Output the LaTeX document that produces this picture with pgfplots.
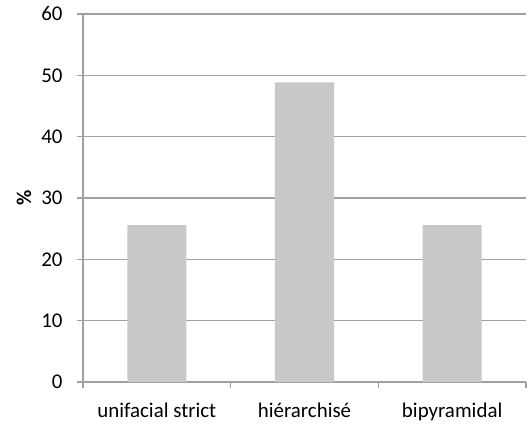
\documentclass[border=0pt]{standalone}
\usepackage{pgfplots}
\pgfplotsset{compat=1.18}
\usepackage{fontspec}
\setmainfont{Carlito}
\definecolor{barfill}{HTML}{C8C8C8}
\definecolor{linegray}{HTML}{A0A0A0}
\begin{document}
\fontsize{10.5}{12.6}\selectfont
\begin{tikzpicture}
\useasboundingbox (-41.5bp,-22bp) rectangle (222.5bp,191bp);
\begin{axis}[
  at={(0,0)}, anchor=south west,
  scale only axis,
  width=221.5bp, height=184bp,
  xmin=-0.5, xmax=2.5,
  ymin=0, ymax=60,
  ytick={0,10,20,30,40,50,60},
  xtick={0,1,2},
  xticklabels={unifacial strict, hiérarchisé, bipyramidal},
  minor xtick={-0.5,0.5,1.5,2.5},
  axis lines*=left,
  axis line style={draw=linegray, line width=0.75bp},
  ymajorgrids,
  major grid style={draw=linegray, line width=0.75bp},
  tick style={draw=linegray, line width=0.75bp},
  major x tick style={draw=none},
  tick align=outside,
  major tick length=3bp,
  minor tick length=3bp,
  /pgf/number format/assume math mode=true,
  yticklabel style={inner sep=0pt, anchor=east, xshift=-7bp},
  xticklabel style={inner sep=0pt, anchor=north, yshift=-7.5bp},
  ylabel={\bfseries\%},
  ylabel style={at={(axis description cs:0,0.5)}, anchor=center, yshift=29.5bp, inner sep=0pt},
  clip=false,
]
\addplot[ybar, bar width=0.4, fill=barfill, draw=none] coordinates {
  (0,25.58) (1,48.84) (2,25.58)
};
\end{axis}
\end{tikzpicture}
\end{document}
